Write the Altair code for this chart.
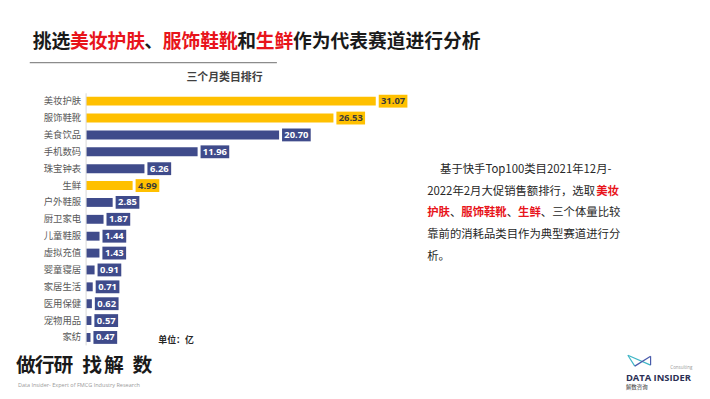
import altair as alt
import pandas as pd

categories = ["美妆护肤", "服饰鞋靴", "美食饮品", "手机数码", "珠宝钟表", "生鲜", "户外鞋服",
              "厨卫家电", "儿童鞋服", "虚拟充值", "婴童寝居", "家居生活", "医用保健", "宠物用品", "家纺"]
values = [31.07, 26.53, 20.70, 11.96, 6.26, 4.99, 2.85, 1.87, 1.44, 1.43, 0.91, 0.71, 0.62, 0.57, 0.47]
labels = ["31.07", "26.53", "20.70", "11.96", "6.26", "4.99", "2.85", "1.87", "1.44", "1.43",
          "0.91", "0.71", "0.62", "0.57", "0.47"]
highlighted = ["美妆护肤", "服饰鞋靴", "生鲜"]

df = pd.DataFrame({"cat": categories, "value": values, "label": labels})
df["hl"] = df["cat"].isin(highlighted).map({True: "yes", False: "no"})
df["long"] = df["label"].str.len() >= 5

YELLOW = "#FFC000"
BLUE = "#3F4B8B"
FONT = "Noto Sans CJK SC"

W, H = 702, 391
OX, OY = 8, 8  # page margin offset

def px(x):
    return x - OX

def py(y):
    return y - OY

xs = alt.Scale(domain=[0, 31.07], range=[px(87), px(380)])
ys = alt.Scale(domain=categories, range=[py(100 - 8.54), py(339 + 8.54)], paddingInner=0.47, paddingOuter=0.235)
X = alt.X("value:Q", scale=xs, axis=None)
Y = alt.Y("cat:N", sort=categories, scale=ys, axis=None)
colr = alt.Color("hl:N", scale=alt.Scale(domain=["yes", "no"], range=[YELLOW, BLUE]), legend=None)
tcol = alt.condition("datum.hl == 'yes'", alt.value("#3a3a3a"), alt.value("#ffffff"))

base = alt.Chart(df)

bars = base.mark_bar(height=9).encode(x=X, y=Y, color=colr)

BOX5, BOX4, GAP = 29, 24, 3
box5 = base.transform_filter("datum.long").mark_bar(height=13, xOffset=GAP, x2Offset=GAP + BOX5).encode(
    x=X, x2="value:Q", y=Y, color=colr)
box4 = base.transform_filter("!datum.long").mark_bar(height=13, xOffset=GAP, x2Offset=GAP + BOX4).encode(
    x=X, x2="value:Q", y=Y, color=colr)
txt5 = base.transform_filter("datum.long").mark_text(
    align="center", baseline="middle", dx=GAP + BOX5 / 2, fontSize=9.5, fontWeight="bold", font="Open Sans"
).encode(x=X, y=Y, text="label:N", color=tcol)
txt4 = base.transform_filter("!datum.long").mark_text(
    align="center", baseline="middle", dx=GAP + BOX4 / 2, fontSize=9.5, fontWeight="bold", font="Open Sans"
).encode(x=X, y=Y, text="label:N", color=tcol)

ylabels = base.mark_text(align="right", baseline="middle", fontSize=9.5, font=FONT, color="#595959").encode(
    x=alt.value(px(82)), y=Y, text="cat:N")

one = pd.DataFrame({"k": [0]})

def text(t, x, y, size, color="#262626", weight="normal", align="left", font=FONT):
    return alt.Chart(one).mark_text(text=t, align=align, baseline="middle", fontSize=size,
                                    fontWeight=weight, color=color, font=font).encode(
        x=alt.value(px(x)), y=alt.value(py(y)))

def rule(x1, y1, x2, y2, color, w=1.0):
    return alt.Chart(one).mark_rule(color=color, strokeWidth=w).encode(
        x=alt.value(px(x1)), y=alt.value(py(y1)), x2=alt.value(px(x2)), y2=alt.value(py(y2)))

layers = []
# title
step = 18.8
tx0 = 33
title_parts = [("挑选", 0, "#1a1a1a"), ("美妆护肤", 2, "#E8141B"), ("、", 6, "#1a1a1a"),
               ("服饰鞋靴", 7, "#E8141B"), ("和", 11, "#1a1a1a"), ("生鲜", 12, "#E8141B"),
               ("作为代表赛道进行分析", 14, "#1a1a1a")]
for t, i, c in title_parts:
    layers.append(text(t, tx0 + step * i, 40, 19, color=c, weight="bold"))
layers.append(rule(30, 61, 280, 61, "#8c8c8c", 1.5))
layers.append(text("三个月类目排行", 227, 77, 11, color="#404040", weight="bold", align="center"))
layers.append(rule(87, 92, 87, 347, "#d9d9d9", 1))
layers.append(text("单位：亿", 160, 342, 9, color="#262626", weight="bold"))

# paragraph
fs = 11.5
RED = "#E8141B"
lh = 21.8
l0 = 170
layers.append(text("基于快手Top100类目2021年12月-", 445, l0, fs))
layers.append(text("2022年2月大促销售额排行，选取", 432, l0 + lh, fs))
layers.append(text("美妆", 603, l0 + lh, fs, color=RED, weight="bold"))
seg3 = [("护肤", 432, RED, "bold"), ("、", 455, "#262626", "normal"), ("服饰鞋靴", 466.5, RED, "bold"),
        ("、", 512.5, "#262626", "normal"), ("生鲜", 524, RED, "bold"), ("、三个体量比较", 547, "#262626", "normal")]
for t, x, c, wgt in seg3:
    layers.append(text(t, x, l0 + 2 * lh, fs, color=c, weight=wgt))
layers.append(text("靠前的消耗品类目作为典型赛道进行分", 432, l0 + 3 * lh, fs))
layers.append(text("析。", 432, l0 + 4 * lh, fs))

# footer slogan
for ch, x in [("做", 26), ("行", 45), ("研", 64), ("找", 93), ("解", 115), ("数", 144)]:
    layers.append(text(ch, x, 368, 20, color="#1a1a1a", weight="bold", align="center"))
layers.append(text("Data Insider- Expert of FMCG Industry Research", 18, 387, 5.6, color="#9a9a9a", font="Open Sans"))

# logo
layers.append(rule(635, 357, 642, 368, "#3fb6c6", 1.2))
layers.append(rule(635, 357, 658, 367, "#3fb6c6", 1.2))
layers.append(rule(642, 368, 658, 358, "#4a5bab", 1.2))
layers.append(rule(658, 358, 658, 367, "#4a5bab", 1.2))
layers.append(text("Consulting", 678, 370, 4.5, color="#9a9a9a", font="Open Sans"))
layers.append(text("DATA INSIDER", 633, 380, 9.5, color="#2b2f55", weight="bold", font="Open Sans"))
layers.append(text("解数咨询", 633, 389, 5.5, color="#333333"))

chart = alt.layer(bars, box5, box4, txt5, txt4, ylabels, *layers).properties(
    width=W, height=H, autosize=alt.AutoSizeParams(type="none"), padding=0, background="white"
).configure_view(stroke=None)

chart.save("out.html", embed_options={"renderer": "svg", "actions": False})
